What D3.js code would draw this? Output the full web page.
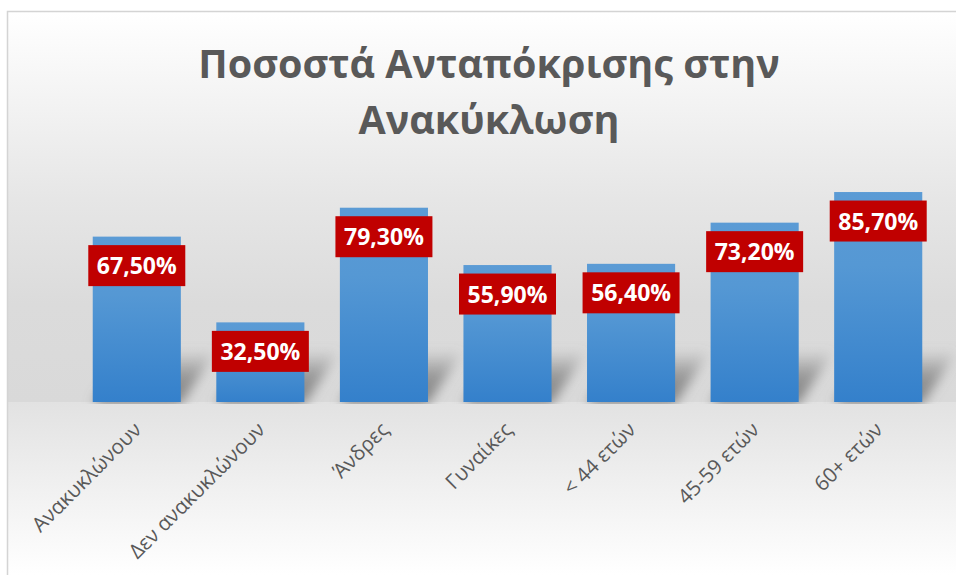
<!DOCTYPE html>
<html>
<head>
<meta charset="utf-8">
<script src="https://cdn.jsdelivr.net/npm/d3@7"></script>
<style>
  html, body { margin: 0; padding: 0; background: #ffffff; }
  svg { display: block; }
</style>
</head>
<body>
<div id="chart"></div>
<script>
// chart data
const categories = ['Ανακυκλώνουν', 'Δεν ανακυκλώνουν', 'Άνδρες', 'Γυναίκες', '< 44 ετών', '45-59 ετών', '60+ ετών'];
const values = [67.5, 32.5, 79.3, 55.9, 56.4, 73.2, 85.7];
const titleLines = ['Ποσοστά Ανταπόκρισης στην', 'Ανακύκλωση'];

const width = 956, height = 581;
const base = 402;

const svg = d3.select('#chart').append('svg')
  .attr('width', width).attr('height', height);

const defs = svg.append('defs');

// background: wall + floor gradients
const wall = defs.append('linearGradient').attr('id', 'wall')
  .attr('gradientUnits', 'userSpaceOnUse')
  .attr('x1', 0).attr('y1', 12).attr('x2', 0).attr('y2', base);
wall.append('stop').attr('offset', 0).attr('stop-color', '#ffffff');
wall.append('stop').attr('offset', 0.48).attr('stop-color', '#e6e6e6');
wall.append('stop').attr('offset', 0.75).attr('stop-color', '#dbdbdb');
wall.append('stop').attr('offset', 1).attr('stop-color', '#d9d9d9');

const floor = defs.append('linearGradient').attr('id', 'floor')
  .attr('gradientUnits', 'userSpaceOnUse')
  .attr('x1', 0).attr('y1', base).attr('x2', 0).attr('y2', 575);
floor.append('stop').attr('offset', 0).attr('stop-color', '#e2e2e2');
floor.append('stop').attr('offset', 1).attr('stop-color', '#ffffff');

const barGrad = defs.append('linearGradient').attr('id', 'bar')
  .attr('x1', 0).attr('y1', 0).attr('x2', 0).attr('y2', 1);
barGrad.append('stop').attr('offset', 0).attr('stop-color', '#5b9bd5');
barGrad.append('stop').attr('offset', 0.35).attr('stop-color', '#5598d4');
barGrad.append('stop').attr('offset', 1).attr('stop-color', '#3480cb');

const shadowGrad = defs.append('linearGradient').attr('id', 'shadowGrad')
  .attr('x1', 0).attr('y1', 1).attr('x2', 0).attr('y2', 0);
shadowGrad.append('stop').attr('offset', 0).attr('stop-color', '#7a7a7a').attr('stop-opacity', 0.95);
shadowGrad.append('stop').attr('offset', 0.5).attr('stop-color', '#7a7a7a').attr('stop-opacity', 0.7);
shadowGrad.append('stop').attr('offset', 1).attr('stop-color', '#7a7a7a').attr('stop-opacity', 0);

defs.append('filter').attr('id', 'blur')
  .attr('x', '-30%').attr('y', '-50%').attr('width', '160%').attr('height', '200%')
  .append('feGaussianBlur').attr('stdDeviation', 6);

svg.append('rect').attr('x', 8).attr('y', 12).attr('width', width - 8).attr('height', base - 12)
  .attr('fill', 'url(#wall)');
svg.append('rect').attr('x', 8).attr('y', base).attr('width', width - 8).attr('height', height - base)
  .attr('fill', 'url(#floor)');

// border
svg.append('path')
  .attr('d', `M7.5,575 V11.5 H${width}`)
  .attr('fill', 'none').attr('stroke', '#d4d4d4').attr('stroke-width', 1.5);

// scales
const x = d3.scaleBand().domain(categories).range([75, 940])
  .paddingInner(0.287).paddingOuter(0.1435);
const y = d3.scaleLinear().domain([0, 100]).range([base, 157]);

// perspective shadows (clipped to the wall)
defs.append('clipPath').attr('id', 'wallClip')
  .append('rect').attr('x', 8).attr('y', 12).attr('width', width - 8).attr('height', base - 10);
svg.append('g').attr('clip-path', 'url(#wallClip)')
  .append('g').attr('filter', 'url(#blur)')
  .selectAll('path').data(values).enter().append('path')
  .attr('d', (d, i) => {
    const x0 = x(categories[i]), x1 = x0 + x.bandwidth();
    return `M${x0},${base + 2} L${x1},${base + 2} L${x1 + 36},${base - 52} L${x0 + 36},${base - 52} Z`;
  })
  .attr('fill', 'url(#shadowGrad)');

// bars
svg.append('g').selectAll('rect').data(values).enter().append('rect')
  .attr('x', (d, i) => x(categories[i]))
  .attr('y', d => y(d))
  .attr('width', x.bandwidth())
  .attr('height', d => base - y(d))
  .attr('fill', 'url(#bar)');

// data labels
const fmt = d => d.toFixed(2).replace('.', ',') + '%';
const labels = svg.append('g').selectAll('g').data(values).enter().append('g')
  .attr('transform', (d, i) => `translate(${x(categories[i]) + x.bandwidth() / 2},${y(d) + 8.5})`);
labels.append('rect')
  .attr('x', -48.5).attr('y', 0).attr('width', 97).attr('height', 41)
  .attr('fill', '#c00000');
labels.append('text')
  .attr('x', 0).attr('y', 29)
  .attr('text-anchor', 'middle')
  .attr('font-family', 'Open Sans')
  .attr('font-weight', 'bold')
  .attr('font-size', 23)
  .attr('fill', '#ffffff')
  .text(fmt);

// category axis labels
svg.append('g').selectAll('text').data(categories).enter().append('text')
  .attr('transform', d => `translate(${x(d) + x.bandwidth() / 2 + 6},${base + 29}) rotate(-45)`)
  .attr('text-anchor', 'end')
  .attr('font-family', 'Open Sans')
  .attr('font-size', 20.5)
  .attr('fill', '#595959')
  .text(d => d);

// title
svg.append('g').selectAll('text').data(titleLines).enter().append('text')
  .attr('x', 489)
  .attr('y', (d, i) => 78 + i * 56)
  .attr('text-anchor', 'middle')
  .attr('font-family', 'Open Sans')
  .attr('font-weight', 'bold')
  .attr('font-size', 39.5)
  .attr('fill', '#595959')
  .text(d => d);
</script>
</body>
</html>
